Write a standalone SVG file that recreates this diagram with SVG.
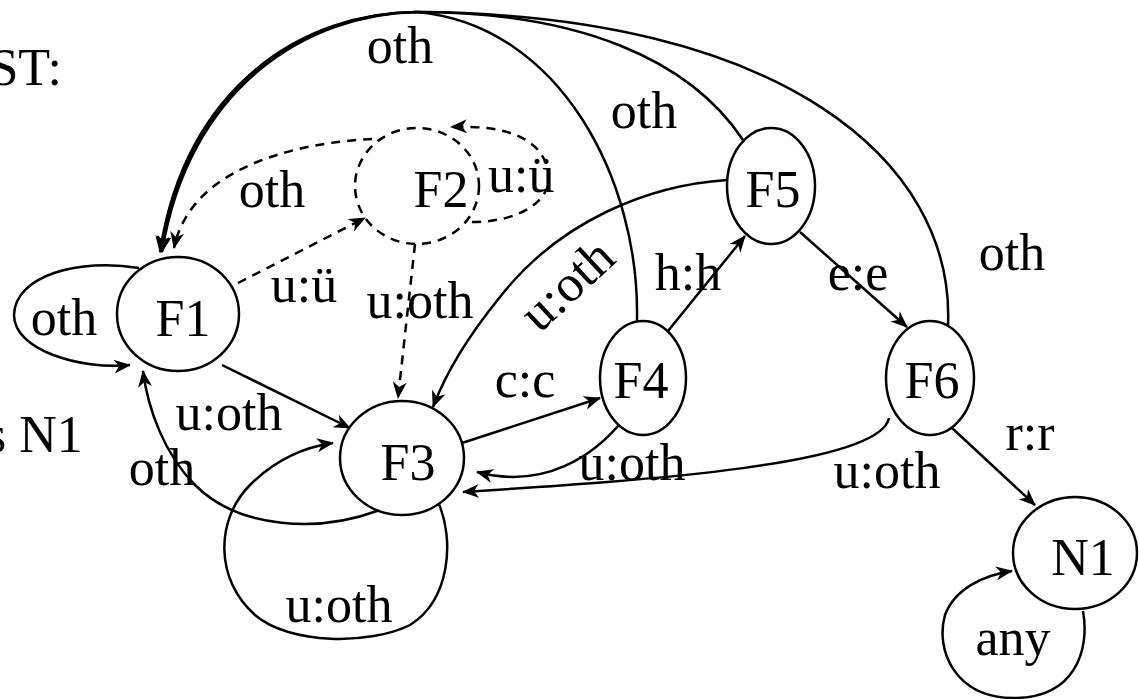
<svg xmlns="http://www.w3.org/2000/svg" width="1139" height="699" viewBox="0 0 1139 699">
<style>
text{font-family:"Liberation Serif","Times New Roman",serif;font-size:52px;fill:#000}
.n{fill:#fff;stroke:#000;stroke-width:2.5}
.d{stroke-dasharray:9 7}
.e{fill:none;stroke:#000;stroke-width:2.5}
.a{marker-end:url(#ah)}
.m{text-anchor:middle}
</style>
<defs>
<marker id="ah" markerUnits="userSpaceOnUse" markerWidth="18" markerHeight="14" refX="16" refY="7" orient="auto">
<path d="M0,0 L17,7 L0,14 L5,7 z" fill="#000"/>
</marker>
</defs>
<rect width="1139" height="699" fill="#fff"/>
<text x="62" y="85" text-anchor="end">ST:</text>
<text x="-14" y="452">s N1</text>
<g id="connectors">
<path class="e a" d="M637,321 C640,180 560,25 417,12 C305,12 185,85 160,252"/>
<path class="e a" d="M743,140 C690,60 580,12 417,12 C306,13 187,86 161,252"/>
<path class="e a" d="M948,325 C955,160 780,14 417,12 C307,14 189,87 162,252"/>
<path class="e d a" d="M238,283 L365,218"/>
<path class="e d a" d="M372,139 C290,143 190,170 174,248"/>
<path class="e d a" d="M415,244 L398,398"/>
<path class="e d a" d="M472,222 C520,222 555,200 548,170 C540,135 500,125 451,127"/>
<path class="e a" d="M139,268 C80,258 15,275 14,315 C14,350 80,370 130,365"/>
<path class="e a" d="M222,365 L350,428"/>
<path class="e a" d="M377,511 C320,532 240,530 195,485 C165,455 148,410 143,371"/>
<path class="e a" d="M438,502 C455,540 450,600 410,625 C370,645 290,645 255,615 C215,580 215,520 250,485 C275,460 305,447 333,443"/>
<path class="e a" d="M462,443 L600,398"/>
<path class="e a" d="M623,420 C595,455 545,490 477,472"/>
<path class="e a" d="M889,418 C880,465 650,480 463,492"/>
<path class="e a" d="M668,331 L745,236"/>
<path class="e a" d="M800,232 L907,327"/>
<path class="e a" d="M952,428 L1035,505"/>
<path class="e a" d="M727,180 C650,185 560,220 500,297 C465,340 445,375 433,407"/>
<path class="e a" d="M1083,611 C1090,650 1075,698 1014,698 C955,698 935,650 945,615 C955,588 985,575 1012,571"/>
<text class="m" x="400" y="63">oth</text>
<text class="m" x="272" y="207">oth</text>
<text x="488" y="192">u:ü</text>
<text class="m" x="644" y="128">oth</text>
<text class="m" x="1012" y="270">oth</text>
<text class="m" x="64" y="335">oth</text>
<text class="m" x="304" y="302">u:ü</text>
<text class="m" x="420" y="318">u:oth</text>
<text class="m" transform="translate(567,285) rotate(-43)" x="0" y="17">u:oth</text>
<text class="m" x="688" y="290">h:h</text>
<text class="m" x="858" y="290">e:e</text>
<text class="m" x="525" y="397">c:c</text>
<text class="m" x="229" y="430">u:oth</text>
<text class="m" x="162" y="485">oth</text>
<text class="m" x="632" y="480">u:oth</text>
<text class="m" x="887" y="488">u:oth</text>
<text class="m" x="1030" y="450">r:r</text>
<text class="m" x="339" y="622">u:oth</text>
<text class="m" x="1013" y="655">any</text>
</g>
<g id="F1"><ellipse class="n" cx="178" cy="314" rx="61" ry="57"/><text class="m" x="183" y="336">F1</text></g>
<g id="F2"><ellipse class="n d" cx="417" cy="186" rx="62" ry="58" style="fill:none"/><text class="m" x="441" y="207">F2</text></g>
<g id="F3"><ellipse class="n" cx="402" cy="458" rx="62" ry="57"/><text class="m" x="408" y="480">F3</text></g>
<g id="F4"><ellipse class="n" cx="643" cy="378" rx="43" ry="57"/><text class="m" x="641" y="398">F4</text></g>
<g id="F5"><ellipse class="n" cx="771" cy="186" rx="44" ry="58"/><text class="m" x="773" y="207">F5</text></g>
<g id="F6"><ellipse class="n" cx="930" cy="378" rx="44" ry="57"/><text class="m" x="932" y="398">F6</text></g>
<g id="N1"><ellipse class="n" cx="1075" cy="553" rx="62" ry="56"/><text class="m" x="1083" y="575">N1</text></g>
</svg>
